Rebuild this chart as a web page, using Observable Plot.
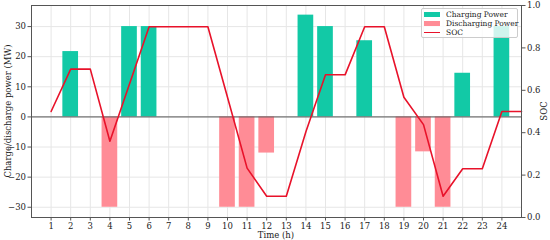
<!DOCTYPE html>
<html>
<head>
<meta charset="utf-8">
<script src="https://cdn.jsdelivr.net/npm/d3@7"></script>
<script src="https://cdn.jsdelivr.net/npm/@observablehq/plot@0.6"></script>
<style>
  body { margin: 0; background: #fff; }
  #wrap { position: relative; width: 550px; height: 240px; font-family: "DejaVu Serif", serif; }
  .lbl { position: absolute; font-size: 8.5px; line-height: 1; color: #222; white-space: nowrap; }
  #legend { position: absolute; left: 421px; top: 8px; width: 97px; height: 30px;
    background: rgba(255,255,255,0.8); border: 1px solid #ccc; border-radius: 2px;
    font-size: 7.5px; line-height: 1; color: #222; box-sizing: border-box; white-space: nowrap; }
  .row { position: absolute; left: 2px; height: 9px; display: flex; align-items: center; white-space: nowrap; }
  .sw { width: 16px; height: 5px; margin-right: 6px; flex: none; }
  .ln { width: 16px; height: 1.6px; margin-right: 6px; flex: none; }
</style>
</head>
<body>
<div id="wrap"></div>
<script>
const hours = [1,2,3,4,5,6,7,8,9,10,11,12,13,14,15,16,17,18,19,20,21,22,23,24];
const chargingPower = [0,21.7,0,0,30,30,0,0,0,0,0,0,0,33.8,30,0,25.3,0,0,0,0,14.5,0,30];
const dischargingPower = [0,0,0,-30,0,0,0,0,0,-30,-30,-12,0,0,0,0,0,0,-30,-11.6,-30,0,0,0];
const socHours = [1,2,3,4,5,6,7,8,9,10,11,12,13,14,15,16,17,18,19,20,21,22,23,24,25];
const soc = [0.5,0.7,0.7,0.36,0.63,0.9,0.9,0.9,0.9,0.567,0.233,0.1,0.1,0.404,0.673,0.673,0.9,0.9,0.567,0.438,0.1,0.23,0.23,0.5,0.5];
const powerTicks = [-30,-20,-10,0,10,20,30];
const socTicks = [0,0.2,0.4,0.6,0.8,1.0];

const colCharge = "#12c9a6", colDischarge = "#ff8c96", colSOC = "#e8122a";
const yDomain = [-33.4, 37.0];
const socToMW = d3.scaleLinear().domain([0,1]).range(yDomain);

const charge = hours.map((h,i)=>({h, v: chargingPower[i]})).filter(d=>d.v!==0);
const discharge = hours.map((h,i)=>({h, v: dischargingPower[i]})).filter(d=>d.v!==0);
const socData = socHours.map((h,i)=>({h, s: soc[i]}));

const chart = Plot.plot({
  width: 550, height: 240,
  marginLeft: 31, marginRight: 29, marginTop: 5, marginBottom: 23,
  style: {fontFamily: "DejaVu Serif, serif", fontSize: "8.5px", color: "#222", background: "transparent"},
  x: {domain: [0,25]},
  y: {domain: yDomain},
  marks: [
    Plot.gridX(hours, {stroke: "#e6e6e6", strokeOpacity: 1}),
    Plot.gridY(powerTicks, {stroke: "#e6e6e6", strokeOpacity: 1}),
    Plot.rectY(charge, {x1: d=>d.h-0.4, x2: d=>d.h+0.4, y1: 0, y2: "v", fill: colCharge}),
    Plot.rectY(discharge, {x1: d=>d.h-0.4, x2: d=>d.h+0.4, y1: 0, y2: "v", fill: colDischarge}),
    Plot.ruleY([0], {stroke: "#555", strokeWidth: 1}),
    Plot.line(socData, {x: "h", y: d=>socToMW(d.s), stroke: colSOC, strokeWidth: 1.6}),
    Plot.frame({stroke: "#555", strokeWidth: 1}),
    Plot.axisX(hours, {label: null, tickSize: 3.5, tickPadding: 1.5, stroke: "#555"}),
    Plot.axisY(powerTicks, {anchor: "left", label: null, tickSize: 3.5, tickPadding: 2, stroke: "#555"}),
    Plot.axisY(socTicks.map(socToMW), {anchor: "right", label: null, tickSize: 3.5, tickPadding: 2, stroke: "#555",
      tickFormat: d => (+socToMW.invert(d).toFixed(2)).toFixed(1)})
  ]
});
const wrap = document.getElementById("wrap");
wrap.appendChild(chart);

function addLabel(text, css) {
  const d = document.createElement("div");
  d.className = "lbl"; d.textContent = text;
  Object.assign(d.style, css);
  wrap.appendChild(d);
}
addLabel("Time (h)", {left: "276px", top: "235px", transform: "translate(-50%,-50%)"});
addLabel("Charge/discharge power (MW)", {left: "8px", top: "111px", transform: "translate(-50%,-50%) rotate(-90deg)"});
addLabel("SOC", {left: "544px", top: "111px", transform: "translate(-50%,-50%) rotate(-90deg)"});

const legend = document.createElement("div");
legend.id = "legend";
const items = [
  {label: "Charging Power", type: "sw", color: colCharge},
  {label: "Discharging Power", type: "sw", color: colDischarge},
  {label: "SOC", type: "ln", color: colSOC}
];
items.forEach((it, i) => {
  const r = document.createElement("div");
  r.className = "row"; r.style.top = (1 + i*9) + "px";
  const s = document.createElement("div");
  s.className = it.type; s.style.background = it.color;
  const t = document.createElement("span"); t.textContent = it.label;
  r.appendChild(s); r.appendChild(t);
  legend.appendChild(r);
});
wrap.appendChild(legend);
</script>
</body>
</html>
